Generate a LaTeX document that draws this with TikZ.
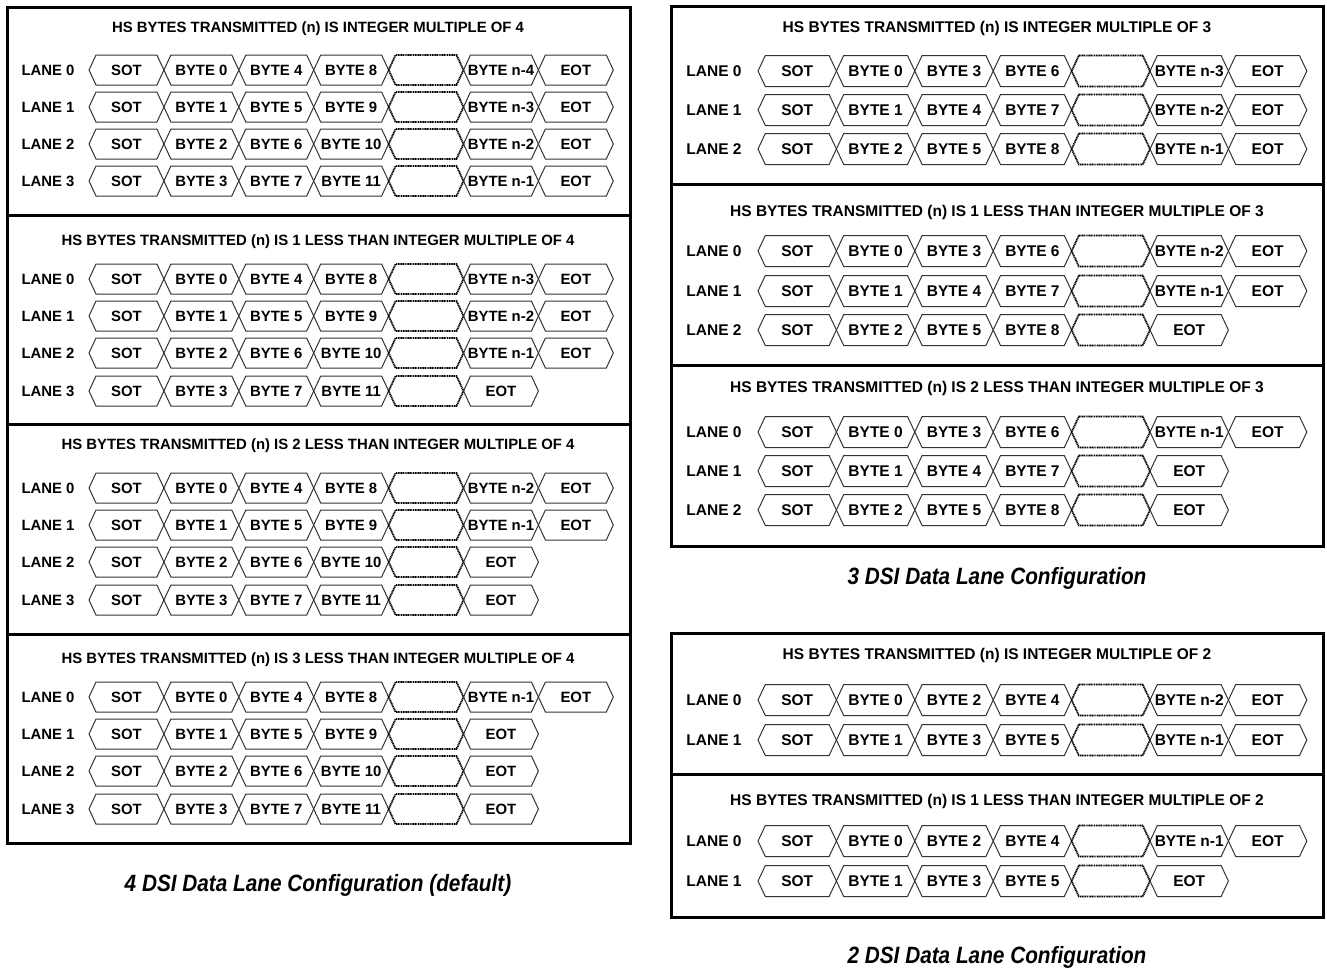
\documentclass[tikz,border=0pt]{standalone}
\usepackage{fontspec}
\setmainfont{Liberation Sans}
\newfontfamily\capfont[FakeStretch=0.88]{Liberation Sans}
\usetikzlibrary{positioning}
% one lane: #1 prefix, #2 lane number, #3 row y, #4 label x, #5 first tip x, #6 cells (5th = gap)
\newcommand{\lanerow}[6]{%
  \node[lanelab] (#1l#2) at (#4,#3) {LANE #2};
  \foreach \txt [count=\ci] in {#6} {
    \pgfmathsetmacro{\xa}{#5+(\ci-1)*\cellw}
    \ifnum\ci=5
      \draw[gapline] (\xa,#3) -- ++(\cellsl,-\cellhh) -- ++(\cellw-2*\cellsl,0) -- ++(\cellsl,\cellhh) -- ++(-\cellsl,\cellhh) -- ++(-\cellw+2*\cellsl,0) -- cycle;
      \coordinate (#1l#2c\ci) at (\xa+\cellw/2,#3);
    \else
      \draw[cellline] (\xa,#3) -- ++(\cellsl,-\cellhh) -- ++(\cellw-2*\cellsl,0) -- ++(\cellsl,\cellhh) -- ++(-\cellsl,\cellhh) -- ++(-\cellw+2*\cellsl,0) -- cycle;
      \node[celltext] (#1l#2c\ci) at (\xa+\cellw/2,#3) {\txt};
    \fi
  }
}

\begin{document}
\begin{tikzpicture}[x=1pt, y=-1pt, frame/.style={line width=3pt}, cellline/.style={line width=1pt, draw=black!80}, gapline/.style={line width=1.8pt, dash pattern=on 1.1pt off 0.6pt}, celltext/.style={font=\cellfont, inner sep=0pt, text height=\cellcap, text depth=0pt}, lanelab/.style={celltext}, sectitle/.style={celltext}, caption/.style={font=\capfont\fontsize{23.6}{26}\selectfont\bfseries\itshape, inner sep=0pt, text height=16.9pt, text depth=0pt}]
\useasboundingbox (0,0) rectangle (1327,967);

% 4 lanes
\def\cellw{74.9}\def\cellsl{7}\def\cellhh{15}\def\cellcap{10.67pt}
\def\cellfont{\fontsize{14.9}{16}\selectfont\bfseries}
\draw[frame] (7,7) rectangle (630,843);
\draw[frame] (7,215) -- (630,215);
\draw[frame] (7,424) -- (630,424);
\draw[frame] (7,634) -- (630,634);
\node[sectitle] (ta) at (318,27) {HS BYTES TRANSMITTED (n) IS INTEGER MULTIPLE OF 4};
\lanerow{a}{0}{70}{48}{89}{SOT,BYTE 0,BYTE 4,BYTE 8,-,BYTE n-4,EOT}
\lanerow{a}{1}{107}{48}{89}{SOT,BYTE 1,BYTE 5,BYTE 9,-,BYTE n-3,EOT}
\lanerow{a}{2}{144}{48}{89}{SOT,BYTE 2,BYTE 6,BYTE 10,-,BYTE n-2,EOT}
\lanerow{a}{3}{181}{48}{89}{SOT,BYTE 3,BYTE 7,BYTE 11,-,BYTE n-1,EOT}
\node[sectitle] (tb) at (318,240) {HS BYTES TRANSMITTED (n) IS 1 LESS THAN INTEGER MULTIPLE OF 4};
\lanerow{b}{0}{279}{48}{89}{SOT,BYTE 0,BYTE 4,BYTE 8,-,BYTE n-3,EOT}
\lanerow{b}{1}{316}{48}{89}{SOT,BYTE 1,BYTE 5,BYTE 9,-,BYTE n-2,EOT}
\lanerow{b}{2}{353}{48}{89}{SOT,BYTE 2,BYTE 6,BYTE 10,-,BYTE n-1,EOT}
\lanerow{b}{3}{391}{48}{89}{SOT,BYTE 3,BYTE 7,BYTE 11,-,EOT}
\node[sectitle] (tc) at (318,444) {HS BYTES TRANSMITTED (n) IS 2 LESS THAN INTEGER MULTIPLE OF 4};
\lanerow{c}{0}{488}{48}{89}{SOT,BYTE 0,BYTE 4,BYTE 8,-,BYTE n-2,EOT}
\lanerow{c}{1}{525}{48}{89}{SOT,BYTE 1,BYTE 5,BYTE 9,-,BYTE n-1,EOT}
\lanerow{c}{2}{562}{48}{89}{SOT,BYTE 2,BYTE 6,BYTE 10,-,EOT}
\lanerow{c}{3}{600}{48}{89}{SOT,BYTE 3,BYTE 7,BYTE 11,-,EOT}
\node[sectitle] (td) at (318,658) {HS BYTES TRANSMITTED (n) IS 3 LESS THAN INTEGER MULTIPLE OF 4};
\lanerow{d}{0}{697}{48}{89}{SOT,BYTE 0,BYTE 4,BYTE 8,-,BYTE n-1,EOT}
\lanerow{d}{1}{734}{48}{89}{SOT,BYTE 1,BYTE 5,BYTE 9,-,EOT}
\lanerow{d}{2}{771}{48}{89}{SOT,BYTE 2,BYTE 6,BYTE 10,-,EOT}
\lanerow{d}{3}{809}{48}{89}{SOT,BYTE 3,BYTE 7,BYTE 11,-,EOT}
\node[caption] (cap4) at (318,883) {4 DSI Data Lane Configuration (default)};

% 3 lanes
\def\cellw{78.4}\def\cellsl{7.3}\def\cellhh{15.5}\def\cellcap{11.1pt}
\def\cellfont{\fontsize{15.5}{17}\selectfont\bfseries}
\draw[frame] (671,6) rectangle (1323,546);
\draw[frame] (671,184) -- (1323,184);
\draw[frame] (671,365) -- (1323,365);
\node[sectitle] (te) at (997,27) {HS BYTES TRANSMITTED (n) IS INTEGER MULTIPLE OF 3};
\lanerow{e}{0}{71}{714}{758}{SOT,BYTE 0,BYTE 3,BYTE 6,-,BYTE n-3,EOT}
\lanerow{e}{1}{110}{714}{758}{SOT,BYTE 1,BYTE 4,BYTE 7,-,BYTE n-2,EOT}
\lanerow{e}{2}{149}{714}{758}{SOT,BYTE 2,BYTE 5,BYTE 8,-,BYTE n-1,EOT}
\node[sectitle] (tf) at (997,211) {HS BYTES TRANSMITTED (n) IS 1 LESS THAN INTEGER MULTIPLE OF 3};
\lanerow{f}{0}{251}{714}{758}{SOT,BYTE 0,BYTE 3,BYTE 6,-,BYTE n-2,EOT}
\lanerow{f}{1}{291}{714}{758}{SOT,BYTE 1,BYTE 4,BYTE 7,-,BYTE n-1,EOT}
\lanerow{f}{2}{330}{714}{758}{SOT,BYTE 2,BYTE 5,BYTE 8,-,EOT}
\node[sectitle] (tg) at (997,387) {HS BYTES TRANSMITTED (n) IS 2 LESS THAN INTEGER MULTIPLE OF 3};
\lanerow{g}{0}{432}{714}{758}{SOT,BYTE 0,BYTE 3,BYTE 6,-,BYTE n-1,EOT}
\lanerow{g}{1}{471}{714}{758}{SOT,BYTE 1,BYTE 4,BYTE 7,-,EOT}
\lanerow{g}{2}{510}{714}{758}{SOT,BYTE 2,BYTE 5,BYTE 8,-,EOT}
\node[caption] (cap3) at (997,576) {3 DSI Data Lane Configuration};

% 2 lanes
\draw[frame] (671,633) rectangle (1323,917);
\draw[frame] (671,774) -- (1323,774);
\node[sectitle] (th) at (997,654) {HS BYTES TRANSMITTED (n) IS INTEGER MULTIPLE OF 2};
\lanerow{h}{0}{700}{714}{758}{SOT,BYTE 0,BYTE 2,BYTE 4,-,BYTE n-2,EOT}
\lanerow{h}{1}{740}{714}{758}{SOT,BYTE 1,BYTE 3,BYTE 5,-,BYTE n-1,EOT}
\node[sectitle] (ti) at (997,800) {HS BYTES TRANSMITTED (n) IS 1 LESS THAN INTEGER MULTIPLE OF 2};
\lanerow{i}{0}{841}{714}{758}{SOT,BYTE 0,BYTE 2,BYTE 4,-,BYTE n-1,EOT}
\lanerow{i}{1}{881}{714}{758}{SOT,BYTE 1,BYTE 3,BYTE 5,-,EOT}
\node[caption] (cap2) at (997,955) {2 DSI Data Lane Configuration};
\end{tikzpicture}
\end{document}
